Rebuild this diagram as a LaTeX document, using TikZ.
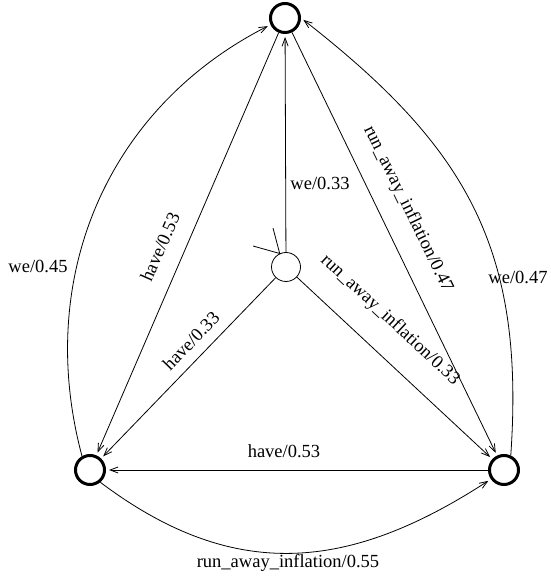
\documentclass[tikz,border=0pt]{standalone}
\usepackage{fontspec}
\setmainfont{Liberation Serif}
\usetikzlibrary{arrows.meta}

\begin{document}
\begin{tikzpicture}[x=1pt,y=1pt]
	
	% Estilos
	\tikzset{
		estado/.style={
			circle,
			draw,
			line width=3pt,
			minimum size=29pt,
			inner sep=0pt
		},
		inicio/.style={
			estado,
			line width=0.8pt
		},
		arco/.style={
			line width=0.8pt,
			-{Straight Barb[length=8pt,width=6pt]},
			shorten >=3pt
		},
		etiqueta/.style={
			font=\fontsize{18.5}{22}\selectfont,
			inner sep=1pt
		}
	}
	
	\useasboundingbox (0,0) rectangle (550,583);
	
	% Nodos
	\node[estado] (T) at (285,565) {};
	\node[inicio] (C) at (286,316) {};
	\node[estado] (BL) at (90,113) {};
	\node[estado] (BR) at (504,113) {};
	
	% Flecha de inicio
	\coordinate (i1) at (253,337);
	\coordinate (i2) at (273,355);
	\draw[line width=0.8pt] (i1) -- (C.115) -- (i2);
	
	% Líneas
	\draw[arco] (C) -- (T);
	\draw[arco] (C) -- (BL);
	\draw[arco] (C) -- (BR);
	\draw[arco] (T) -- (BL);
	\draw[arco] (T) -- (BR);
	\draw[arco] (BR) -- (BL);
	\draw[arco] (BL.120) to[out=105,in=-153] (T.205);
	\draw[arco] (BR.65) to[out=86,in=-38,looseness=1.1] (T.0);
	\draw[arco] (BL.-50) to[out=-37,in=-147,looseness=1.1] (BR.-145);
	
	% Etiquetas
	\node[etiqueta] (e1) at (320,400) {we/0.33};
	\node[etiqueta, rotate=46] (e2) at (191,242) {have/0.33};
	\node[etiqueta, rotate=-43] (e3) at (390,263) {run\_away\_inflation/0.33};
	\node[etiqueta, rotate=66] (e4) at (160,336) {have/0.53};
	\node[etiqueta, rotate=-64] (e5) at (408,374) {run\_away\_inflation/0.47};
	\node[etiqueta] (e6) at (284,132) {have/0.53};
	\node[etiqueta] (e7) at (288,20) {run\_away\_inflation/0.55};
	\node[etiqueta] (e8) at (38,317) {we/0.45};
	\node[etiqueta] (e9) at (518,306) {we/0.47};
	
\end{tikzpicture}
\end{document}
